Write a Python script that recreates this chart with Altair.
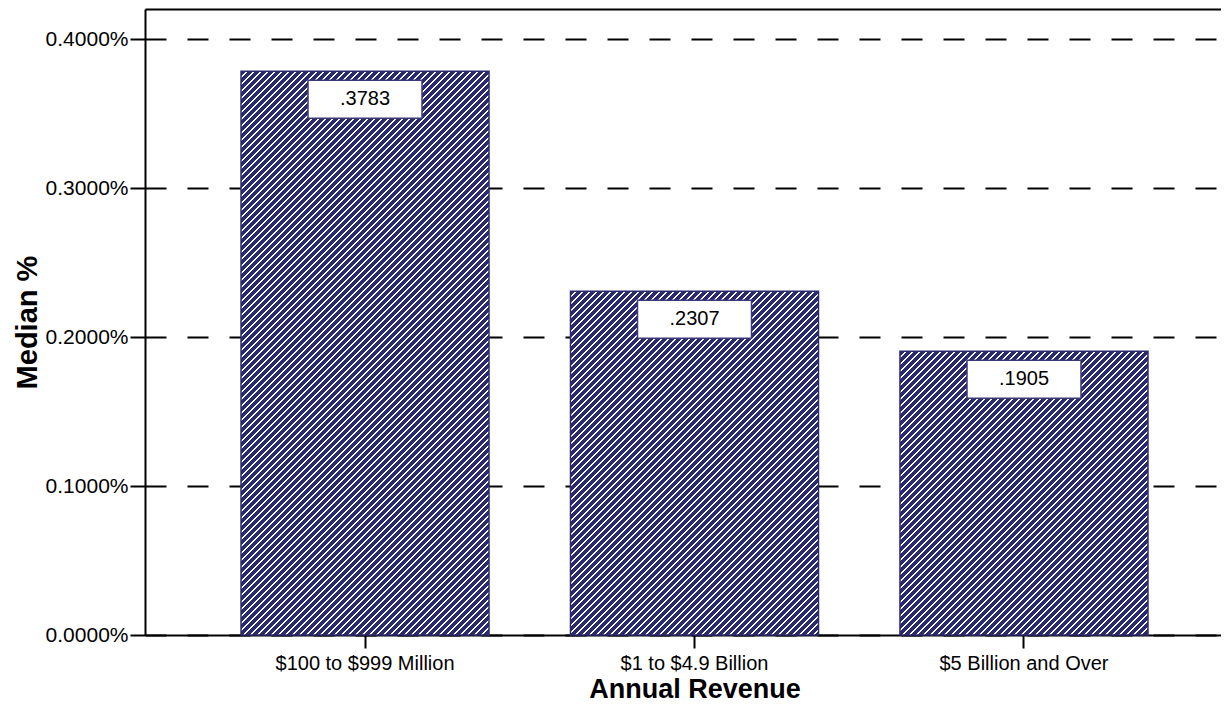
import math
import altair as alt
import pandas as pd

categories = ["$100 to $999 Million", "$1 to $4.9 Billion", "$5 Billion and Over"]
values = [0.3783, 0.2307, 0.1905]
y_ticks = [0.0, 0.1, 0.2, 0.3, 0.4]

NAVY = "#2b2a6e"
FONT = "Liberation Sans"

PLOT_W = 1076
PLOT_H = 626
Y_MAX = 626 / 1490
X_RANGE = [0, 1099]
PAD_INNER = 0.2473
PAD_OUTER = 0.2914

df = pd.DataFrame({"cat": categories, "value": values})

px_per_unit = PLOT_H / Y_MAX
step = (X_RANGE[1] - X_RANGE[0]) / (len(categories) - PAD_INNER + 2 * PAD_OUTER)
bar_w = step * (1 - PAD_INNER)


def hatch(h, w, period=7.0, white_frac=0.3):
    n_per = (w + h) / period
    k = (w + h) / (w * w + h * h)
    stops = []
    for i in range(int(math.ceil(n_per))):
        a = min(i / n_per, 1.0)
        b = min((i + 1 - white_frac) / n_per, 1.0)
        c = min((i + 1) / n_per, 1.0)
        stops += [
            {"offset": a, "color": NAVY},
            {"offset": b, "color": NAVY},
            {"offset": b, "color": "#ffffff"},
            {"offset": c, "color": "#ffffff"},
        ]
    return {"gradient": "linear", "x1": 0, "y1": 0, "x2": k * w, "y2": k * h, "stops": stops}


x_scale = alt.Scale(domain=categories, range=X_RANGE, paddingInner=PAD_INNER, paddingOuter=PAD_OUTER)
y_scale = alt.Scale(domain=[0, Y_MAX], nice=False)

y_axis = alt.Axis(
    values=y_ticks,
    labelExpr="format(datum.value, '.4f') + '%'",
    grid=True,
    gridColor="black",
    gridWidth=2,
    gridDash=[21, 21],
    title="Median %",
    titlePadding=3,
    labelPadding=2,
    tickSize=15,
    labelFontSize=21,
    titleFontSize=29,
)
y_enc = alt.Y("value:Q", scale=y_scale, axis=y_axis)

x_bottom = alt.X("cat:N", scale=x_scale, sort=categories,
                 axis=alt.Axis(title="Annual Revenue", labelAngle=0, labelPadding=5,
                               labelLimit=0, titlePadding=3, tickSize=13,
                               labelFontSize=20, titleFontSize=27))
x_none = alt.X("cat:N", scale=x_scale, sort=categories, axis=None)
x_top = alt.X("cat:N", scale=x_scale, sort=categories,
              axis=alt.Axis(orient="top", title=None, labels=False, ticks=False, grid=False))

base = alt.Chart(df)

bar_layers = []
for i, (c, v) in enumerate(zip(categories, values)):
    h = v * px_per_unit
    layer = base.transform_filter(alt.datum.cat == c).mark_bar(
        fill=hatch(h, bar_w), stroke=NAVY, strokeWidth=1.5
    ).encode(x=x_bottom if i == 0 else x_none, y=y_enc)
    bar_layers.append(layer)

boxes = base.mark_bar(
    width=114, yOffset=9, y2Offset=47, fill="white", stroke="#3b3a7a", strokeWidth=1.5
).encode(x=x_none, y=y_enc, y2=alt.Y2("value:Q"))

texts = base.transform_calculate(
    lab="substring(format(datum.value, '.4f'), 1)"
).mark_text(dy=28, baseline="middle", align="center", font=FONT, fontSize=20, color="black").encode(
    x=x_top, y=y_enc, text="lab:N"
)

chart = alt.layer(*bar_layers, boxes, texts).resolve_axis(x="independent").properties(
    width=PLOT_W,
    height=PLOT_H,
    autosize=alt.AutoSizeParams(type="none"),
    padding={"left": 137, "top": 1, "right": 0, "bottom": 69},
).configure_view(stroke=None).configure_axis(
    domainColor="black",
    domainWidth=2,
    tickColor="black",
    tickWidth=2,
    labelFont=FONT,
    labelColor="black",
    titleFont=FONT,
    titleFontWeight="bold",
    titleColor="black",
)

chart.save("out.html", embed_options={"renderer": "svg", "actions": False})
